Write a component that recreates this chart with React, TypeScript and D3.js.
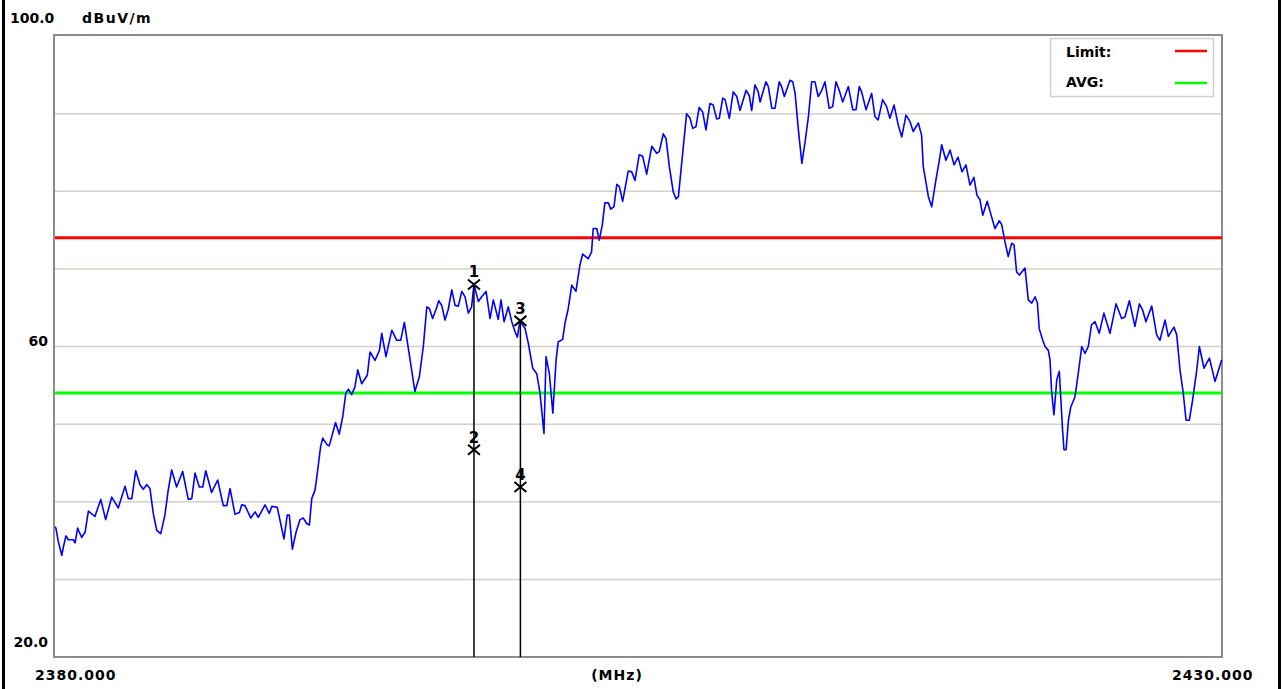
import React from "react";
import * as d3 from "d3";

const X_MIN = 2380;
const X_MAX = 2430;
const Y_MIN = 20;
const Y_MAX = 100;
const GRID_LEVELS = [30, 40, 50, 60, 70, 80, 90];
const Y_LABELS = [
  { v: 100, t: "100.0" },
  { v: 60, t: "60" },
  { v: 20, t: "20.0" },
];
const X_LABELS = ["2380.000", "(MHz)", "2430.000"];
const UNIT = "dBuV/m";
const LIMIT_LEVEL = 74;
const AVG_LEVEL = 54;
const LEGEND = [
  { name: "Limit:", color: "#ff0000" },
  { name: "AVG:", color: "#00ff00" },
];

// Measured trace [MHz, dBuV/m]
const TRACE: [number, number][] = [
  [2380.0, 36.8], [2380.04, 36.6], [2380.14, 34.9], [2380.29, 33.1], [2380.36, 34.2],
  [2380.47, 35.6], [2380.57, 35.1], [2380.78, 35.1], [2380.86, 34.7], [2380.97, 36.6],
  [2381.14, 35.4], [2381.29, 36.1], [2381.43, 38.8], [2381.71, 38.1], [2381.96, 40.3],
  [2382.17, 37.7], [2382.43, 40.6], [2382.71, 39.2], [2383.0, 42.0], [2383.14, 40.4],
  [2383.29, 40.4], [2383.46, 44.0], [2383.64, 42.2], [2383.78, 41.6], [2383.93, 42.2],
  [2384.07, 41.7], [2384.21, 38.5], [2384.36, 36.3], [2384.53, 35.9], [2384.71, 38.3],
  [2384.85, 41.5], [2385.0, 44.1], [2385.21, 41.9], [2385.47, 43.9], [2385.71, 40.3],
  [2385.86, 40.4], [2386.0, 43.7], [2386.18, 41.9], [2386.33, 41.9], [2386.46, 44.0],
  [2386.71, 41.2], [2386.97, 42.8], [2387.21, 39.5], [2387.36, 39.5], [2387.5, 41.7],
  [2387.71, 38.4], [2387.9, 38.6], [2388.0, 39.6], [2388.14, 39.5], [2388.39, 37.9],
  [2388.57, 38.7], [2388.71, 38.0], [2389.0, 39.6], [2389.18, 38.5], [2389.29, 39.4],
  [2389.52, 39.3], [2389.67, 37.2], [2389.81, 35.2], [2389.95, 38.3], [2390.04, 38.3],
  [2390.17, 33.9], [2390.33, 36.1], [2390.5, 37.7], [2390.64, 37.9], [2390.78, 37.2],
  [2390.9, 37.0], [2391.0, 40.4], [2391.14, 41.5], [2391.21, 43.0], [2391.38, 47.1],
  [2391.47, 48.2], [2391.67, 47.3], [2391.75, 47.2], [2392.02, 50.2], [2392.18, 48.7],
  [2392.33, 51.0], [2392.46, 54.0], [2392.57, 54.5], [2392.71, 53.8], [2392.85, 54.8],
  [2392.97, 57.0], [2393.14, 55.2], [2393.38, 56.3], [2393.5, 59.3], [2393.71, 58.2],
  [2393.9, 59.5], [2394.0, 61.7], [2394.18, 58.7], [2394.43, 62.1], [2394.64, 60.8],
  [2394.81, 60.8], [2394.97, 63.1], [2395.07, 61.1], [2395.28, 57.0], [2395.42, 54.2],
  [2395.61, 56.1], [2395.78, 60.0], [2395.93, 65.1], [2396.04, 64.9], [2396.18, 63.6],
  [2396.35, 65.0], [2396.44, 65.9], [2396.57, 65.3], [2396.71, 63.4], [2396.85, 64.8],
  [2397.0, 67.3], [2397.14, 65.3], [2397.28, 65.2], [2397.43, 67.1], [2397.57, 66.4],
  [2397.71, 64.3], [2397.85, 65.1], [2397.95, 68.0], [2398.14, 65.8], [2398.28, 66.4],
  [2398.47, 67.1], [2398.64, 63.6], [2398.78, 66.0], [2398.99, 63.5], [2399.11, 66.0],
  [2399.24, 63.2], [2399.42, 65.1], [2399.57, 63.2], [2399.71, 61.9], [2399.81, 61.2],
  [2399.92, 63.3], [2400.14, 62.3], [2400.28, 60.4], [2400.47, 57.2], [2400.64, 56.5],
  [2400.78, 54.0], [2400.95, 48.8], [2401.04, 58.7], [2401.18, 56.5], [2401.33, 51.4],
  [2401.47, 58.3], [2401.56, 60.6], [2401.75, 60.9], [2401.85, 63.0], [2401.99, 64.9],
  [2402.14, 67.9], [2402.32, 67.1], [2402.49, 70.5], [2402.61, 71.9], [2402.85, 71.3],
  [2402.99, 72.2], [2403.06, 75.2], [2403.21, 75.2], [2403.32, 73.7], [2403.45, 75.7],
  [2403.56, 78.5], [2403.71, 78.5], [2403.81, 77.7], [2403.95, 78.0], [2404.07, 80.9],
  [2404.18, 80.6], [2404.32, 78.7], [2404.56, 82.6], [2404.71, 82.5], [2404.85, 81.4],
  [2405.03, 84.7], [2405.18, 84.5], [2405.35, 82.2], [2405.57, 85.8], [2405.78, 84.9],
  [2405.89, 85.1], [2406.06, 87.4], [2406.18, 86.8], [2406.32, 83.2], [2406.49, 79.9],
  [2406.61, 79.0], [2406.71, 79.3], [2406.85, 83.6], [2407.06, 90.0], [2407.21, 89.4],
  [2407.32, 88.1], [2407.46, 88.3], [2407.6, 90.8], [2407.75, 90.2], [2407.89, 87.9],
  [2408.06, 91.3], [2408.2, 91.1], [2408.35, 89.3], [2408.46, 89.4], [2408.61, 92.0],
  [2408.71, 91.8], [2408.89, 89.4], [2409.06, 92.8], [2409.21, 92.2], [2409.35, 90.4],
  [2409.61, 93.0], [2409.75, 92.3], [2409.85, 90.4], [2409.99, 93.7], [2410.13, 92.8],
  [2410.21, 91.5], [2410.46, 94.1], [2410.56, 93.5], [2410.71, 90.7], [2410.85, 90.7],
  [2411.03, 94.1], [2411.13, 93.5], [2411.25, 92.2], [2411.49, 94.3], [2411.61, 94.1],
  [2411.71, 92.6], [2411.85, 87.9], [2412.0, 83.6], [2412.13, 86.2], [2412.28, 89.6],
  [2412.42, 94.1], [2412.56, 94.1], [2412.7, 92.2], [2412.85, 93.0], [2412.99, 94.1],
  [2413.17, 90.7], [2413.32, 90.9], [2413.46, 94.1], [2413.6, 93.0], [2413.75, 91.5],
  [2413.99, 93.5], [2414.18, 90.5], [2414.32, 90.5], [2414.46, 93.5], [2414.56, 92.8],
  [2414.75, 90.5], [2414.99, 92.6], [2415.13, 89.6], [2415.27, 89.2], [2415.46, 91.8],
  [2415.63, 90.9], [2415.77, 89.4], [2415.95, 91.1], [2416.13, 88.5], [2416.28, 87.0],
  [2416.46, 89.8], [2416.63, 89.0], [2416.77, 87.7], [2416.99, 88.8], [2417.13, 87.2],
  [2417.2, 83.2], [2417.42, 79.3], [2417.56, 78.0], [2417.74, 81.4], [2417.89, 84.0],
  [2417.99, 86.0], [2418.17, 84.0], [2418.35, 85.3], [2418.52, 83.4], [2418.69, 84.4],
  [2418.86, 82.5], [2419.03, 83.4], [2419.2, 80.8], [2419.37, 81.8], [2419.5, 79.5],
  [2419.63, 78.9], [2419.75, 76.9], [2419.94, 78.7], [2420.13, 76.7], [2420.27, 75.2],
  [2420.46, 76.2], [2420.56, 75.7], [2420.7, 73.5], [2420.84, 71.6], [2420.99, 73.3],
  [2421.09, 73.1], [2421.2, 69.6], [2421.32, 69.2], [2421.56, 70.1], [2421.7, 66.0],
  [2421.85, 65.6], [2421.99, 66.4], [2422.09, 65.6], [2422.17, 62.3], [2422.32, 60.8],
  [2422.42, 60.0], [2422.56, 59.5], [2422.63, 58.3], [2422.7, 54.2], [2422.8, 51.2],
  [2422.92, 55.7], [2423.03, 56.8], [2423.09, 53.5], [2423.17, 49.2], [2423.23, 46.7],
  [2423.32, 46.7], [2423.42, 50.5], [2423.52, 52.2], [2423.7, 53.5], [2423.84, 56.5],
  [2423.99, 60.0], [2424.13, 59.1], [2424.27, 60.0], [2424.41, 62.8], [2424.56, 63.2],
  [2424.74, 61.7], [2424.94, 64.3], [2425.2, 61.7], [2425.46, 65.5], [2425.7, 63.6],
  [2425.84, 63.8], [2426.03, 65.9], [2426.27, 62.6], [2426.46, 65.5], [2426.6, 64.7],
  [2426.74, 63.2], [2426.99, 65.2], [2427.2, 61.5], [2427.34, 60.8], [2427.56, 63.4],
  [2427.7, 61.3], [2427.94, 62.5], [2428.06, 61.5], [2428.2, 57.0], [2428.34, 54.0],
  [2428.46, 50.5], [2428.6, 50.5], [2428.74, 53.1], [2428.92, 57.0], [2429.03, 60.0],
  [2429.23, 57.2], [2429.46, 58.5], [2429.7, 55.5], [2429.99, 58.3],
];

const MARKERS = [
  { id: "1", f: 2397.95, v: 68.0 },
  { id: "2", f: 2397.95, v: 46.7 },
  { id: "3", f: 2399.94, v: 63.3 },
  { id: "4", f: 2399.94, v: 41.9 },
];

const W = 1283;
const H = 689;
const PL = 55;
const PR = 1222;
const PT = 36;
const PB = 657;
const FONT = "'DejaVu Sans', Verdana, sans-serif";

export default function App() {
  const x = d3.scaleLinear().domain([X_MIN, X_MAX]).range([PL, PR]);
  const y = d3.scaleLinear().domain([Y_MIN, Y_MAX]).range([PB, PT]);
  const line = d3
    .line<[number, number]>()
    .x((d) => x(d[0]))
    .y((d) => y(d[1]))
    .curve(d3.curveLinear);

  const lineMarkers = MARKERS.filter((m) => m.id === "1" || m.id === "3");

  return (
    <svg
      width={W}
      height={H}
      style={{ position: "absolute", left: 0, top: 0, background: "#fff" }}
      fontFamily={FONT}
    >
      <rect x={0} y={0} width={W} height={H} fill="#fff" />
      {/* outer frame */}
      <line x1={3.5} x2={3.5} y1={0} y2={H} stroke="#000" strokeWidth={3} />
      <line x1={1279.5} x2={1279.5} y1={0} y2={H} stroke="#000" strokeWidth={3} />

      {/* grid */}
      {GRID_LEVELS.map((g) => (
        <line
          key={g}
          x1={PL}
          x2={PR}
          y1={y(g)}
          y2={y(g)}
          stroke="#d4d0c8"
          strokeWidth={1.5}
        />
      ))}

      {/* plot frame */}
      <rect
        x={PL - 1}
        y={PT - 1}
        width={PR - PL + 1}
        height={PB - PT + 1}
        fill="none"
        stroke="#8c8c8c"
        strokeWidth={2}
      />

      {/* limit lines */}
      <line x1={PL} x2={PR} y1={y(LIMIT_LEVEL)} y2={y(LIMIT_LEVEL)} stroke="#ff0000" strokeWidth={3} />
      <line x1={PL} x2={PR} y1={y(AVG_LEVEL)} y2={y(AVG_LEVEL)} stroke="#00ff00" strokeWidth={3} />

      {/* trace */}
      <path d={line(TRACE) || ""} fill="none" stroke="#0000ff" strokeWidth={1.6} strokeLinejoin="round" />

      {/* marker lines */}
      {lineMarkers.map((m) => (
        <line
          key={"l" + m.id}
          x1={x(m.f)}
          x2={x(m.f)}
          y1={y(m.v)}
          y2={PB}
          stroke="#000"
          strokeWidth={1.5}
        />
      ))}
      {MARKERS.map((m) => {
        const cx = x(m.f);
        const cy = y(m.v);
        return (
          <g key={m.id}>
            <path
              d={`M${cx - 6},${cy - 5}L${cx + 6},${cy + 5}M${cx - 6},${cy + 5}L${cx + 6},${cy - 5}`}
              stroke="#000"
              strokeWidth={2}
              fill="none"
            />
            <text
              x={cx}
              y={cy - 7}
              textAnchor="middle"
              fontSize={15}
              fontWeight="bold"
              fill="#000"
            >
              {m.id}
            </text>
          </g>
        );
      })}

      {/* y labels */}
      <text x={10} y={23} fontSize={14} fontWeight="bold" fill="#000">
        {Y_LABELS[0].t}
      </text>
      <text x={82} y={23} fontSize={14} fontWeight="bold" fill="#000" letterSpacing={1.5}>
        {UNIT}
      </text>
      <text x={48} y={y(Y_LABELS[1].v) - 1} fontSize={14} fontWeight="bold" fill="#000" textAnchor="end">
        {Y_LABELS[1].t}
      </text>
      <text x={48} y={y(Y_LABELS[2].v) - 10} fontSize={14} fontWeight="bold" fill="#000" textAnchor="end">
        {Y_LABELS[2].t}
      </text>

      {/* x labels */}
      <text x={35} y={680} fontSize={14} fontWeight="bold" fill="#000" letterSpacing={1}>
        {X_LABELS[0]}
      </text>
      <text x={617} y={680} fontSize={14} fontWeight="bold" fill="#000" textAnchor="middle" letterSpacing={1}>
        {X_LABELS[1]}
      </text>
      <text x={1172} y={680} fontSize={14} fontWeight="bold" fill="#000" letterSpacing={1}>
        {X_LABELS[2]}
      </text>

      {/* legend */}
      <rect x={1050.5} y={38.5} width={163} height={58} fill="#fff" stroke="#d4d0c8" strokeWidth={1.5} />
      {LEGEND.map((l, i) => (
        <g key={l.name}>
          <text x={1066} y={57 + i * 30} fontSize={14} fontWeight="bold" fill="#000">
            {l.name}
          </text>
          <line
            x1={1175}
            x2={1207}
            y1={51 + i * 32}
            y2={51 + i * 32}
            stroke={l.color}
            strokeWidth={2.5}
          />
        </g>
      ))}
    </svg>
  );
}
